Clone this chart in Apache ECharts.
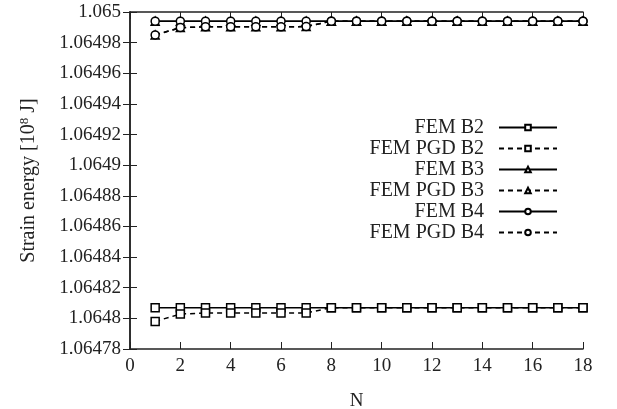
<!DOCTYPE html>
<html><head><meta charset="utf-8">
<script src="https://cdn.jsdelivr.net/npm/echarts@6/dist/echarts.min.js"></script>
<style>html,body{margin:0;padding:0;background:#fff}#c{width:617px;height:409px}</style>
</head><body><div id="c"></div>
<script>
const N = [1,2,3,4,5,6,7,8,9,10,11,12,13,14,15,16,17,18];
const femB2 = [1.064807,1.064807,1.064807,1.064807,1.064807,1.064807,1.064807,1.064807,1.064807,1.064807,1.064807,1.064807,1.064807,1.064807,1.064807,1.064807,1.064807,1.064807];
const pgdB2 = [1.064798,1.0648028,1.0648035,1.0648035,1.0648035,1.0648035,1.0648035,1.064807,1.064807,1.064807,1.064807,1.064807,1.064807,1.064807,1.064807,1.064807,1.064807,1.064807];
const femB3 = [1.064994,1.064994,1.064994,1.064994,1.064994,1.064994,1.064994,1.064994,1.064994,1.064994,1.064994,1.064994,1.064994,1.064994,1.064994,1.064994,1.064994,1.064994];
const pgdB3 = [1.064985,1.0649898,1.0649903,1.0649903,1.0649903,1.0649903,1.0649905,1.064994,1.064994,1.064994,1.064994,1.064994,1.064994,1.064994,1.064994,1.064994,1.064994,1.064994];
const femB4 = [1.064994,1.064994,1.064994,1.064994,1.064994,1.064994,1.064994,1.064994,1.064994,1.064994,1.064994,1.064994,1.064994,1.064994,1.064994,1.064994,1.064994,1.064994];
const pgdB4 = [1.064985,1.0649898,1.0649903,1.0649903,1.0649903,1.0649903,1.0649905,1.064994,1.064994,1.064994,1.064994,1.064994,1.064994,1.064994,1.064994,1.064994,1.064994,1.064994];
const seriesNames = ['FEM B2','FEM PGD B2','FEM B3','FEM PGD B3','FEM B4','FEM PGD B4'];

const font = 'Liberation Serif';
const pair = a => N.map((n,i)=>[n,a[i]]);
function mk(name, data, sym, size, dashed){
  return {name, type:'line', data:pair(data), symbol:sym, symbolSize:size,
    lineStyle:{color:'#000', width:1.5, type: dashed?[5,4]:'solid'},
    itemStyle:{color:'#fff', borderColor:'#000', borderWidth:1.5},
    emphasis:{disabled:true}, animation:false};
}
const chart = echarts.init(document.getElementById('c'));
chart.setOption({
  backgroundColor:'#fff',
  animation:false,
  grid:{left:130, right:34, top:12, bottom:60, outerBoundsMode:'none', containLabel:false},
  legend:{
    orient:'vertical', right:54, top:112, align:'right', itemGap:0,
    itemWidth:58, itemHeight:7,
    textStyle:{fontFamily:font, fontSize:20, color:'#222', lineHeight:21, padding:[0,10,0,0]},
    data:seriesNames
  },
  xAxis:[{
    type:'value', min:0, max:18, interval:2,
    name:'N', nameLocation:'middle', nameGap:43,
    nameTextStyle:{fontFamily:font, fontSize:19, color:'#222'},
    axisLine:{lineStyle:{color:'#222', width:1.5}},
    axisTick:{inside:true, length:7, lineStyle:{color:'#222', width:1}},
    axisLabel:{fontFamily:font, fontSize:19, color:'#222', margin:8},
    splitLine:{show:false}
  },{
    type:'value', position:'top', min:0, max:18, interval:2,
    axisLine:{show:true, lineStyle:{color:'#222', width:1.5}},
    axisTick:{inside:true, length:7, lineStyle:{color:'#222', width:1}},
    axisLabel:{show:false}, splitLine:{show:false}
  }],
  yAxis:[{
    type:'value', min:1.06478, max:1.065, interval:0.00002,
    name:'{a|Strain energy [10}{s|8}{a| J]}', nameLocation:'middle', nameGap:90, nameRotate:90,
    nameTextStyle:{rich:{
      a:{fontFamily:font, fontSize:20, color:'#222'},
      s:{fontFamily:font, fontSize:13, color:'#222', verticalAlign:'top', padding:[0,0,9,0]}
    }},
    axisLine:{lineStyle:{color:'#222', width:1.5}},
    axisTick:{inside:true, length:7, lineStyle:{color:'#222', width:1}},
    axisLabel:{fontFamily:font, fontSize:19, color:'#222', margin:9,
      formatter:v=>String(+v.toFixed(5))},
    splitLine:{show:false}
  },{
    type:'value', position:'right', min:1.06478, max:1.065, interval:0.00002,
    axisLine:{show:true, lineStyle:{color:'#222', width:1.5}},
    axisTick:{inside:true, length:7, lineStyle:{color:'#222', width:1}},
    axisLabel:{show:false}, splitLine:{show:false}
  }],
  series:[
    mk('FEM B2', femB2, 'rect', 8, false),
    mk('FEM PGD B2', pgdB2, 'rect', 8, true),
    mk('FEM B3', femB3, 'triangle', 8, false),
    mk('FEM PGD B3', pgdB3, 'triangle', 8, true),
    mk('FEM B4', femB4, 'circle', 8, false),
    mk('FEM PGD B4', pgdB4, 'circle', 8, true)
  ]
});
</script></body></html>
